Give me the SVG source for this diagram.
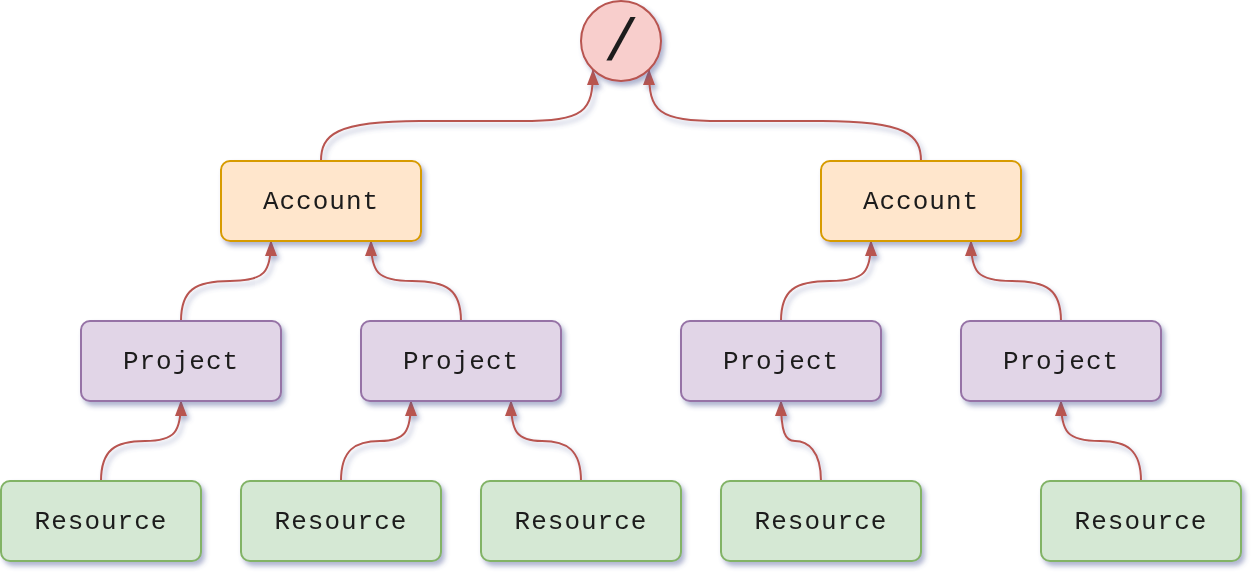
<svg xmlns="http://www.w3.org/2000/svg" width="1254" height="574" viewBox="0 0 1254 574">
<defs>
<filter id="sh" x="-20%" y="-20%" width="140%" height="150%">
<feGaussianBlur in="SourceAlpha" stdDeviation="2.5"/>
<feOffset dx="3" dy="4" result="b"/>
<feFlood flood-color="#4d5a96" flood-opacity="0.45"/>
<feComposite in2="b" operator="in"/>
<feMerge><feMergeNode/><feMergeNode in="SourceGraphic"/></feMerge>
</filter>
<marker id="ar" viewBox="0 0 16 12" refX="15" refY="6" markerWidth="16" markerHeight="12" markerUnits="userSpaceOnUse" orient="auto">
<path d="M0,0 L16,6 L0,12 Z" fill="#b85450"/>
</marker>
<style>
.n rect{stroke-width:2}
.acc rect{fill:#ffe6cc;stroke:#d79b00}
.prj rect{fill:#e1d5e7;stroke:#9673a6}
.res rect{fill:#d5e8d4;stroke:#82b366}
text{font-family:"Liberation Mono","Courier New",monospace;font-size:26px;letter-spacing:1px;fill:#1a1a1a;text-anchor:middle}
.e path{fill:none;stroke:#b85450;stroke-width:2;marker-end:url(#ar)}
</style>
</defs>
<g id="connectors" class="e" filter="url(#sh)">
<path d="M321,161 C321,135 335,121 420,121 L520,121 C585,121 593,112 593,70"/>
<path d="M921,161 C921,135 907,121 822,121 L722,121 C657,121 649,112 649,70"/>
<path d="M181,321 C181,290 195,281 230,281 C265,281 271,272 271,241"/>
<path d="M461,321 C461,290 447,281 412,281 C377,281 371,272 371,241"/>
<path d="M781,321 C781,290 795,281 830,281 C865,281 871,272 871,241"/>
<path d="M1061,321 C1061,290 1047,281 1012,281 C977,281 971,272 971,241"/>
<path d="M101,481 C101,450 115,441 145,441 C175,441 181,432 181,401"/>
<path d="M341,481 C341,450 355,441 380,441 C405,441 411,432 411,401"/>
<path d="M581,481 C581,450 567,441 542,441 C517,441 511,432 511,401"/>
<path d="M821,481 C821,450 807,441 795,441 C785,441 781,432 781,401"/>
<path d="M1141,481 C1141,450 1127,441 1100,441 C1067,441 1061,432 1061,401"/>
</g>
<g id="root" filter="url(#sh)">
<circle cx="621" cy="41" r="40" fill="#f8cecc" stroke="#b85450" stroke-width="2"/>
<text x="621" y="60" style="font-size:60px;letter-spacing:0">/</text>
</g>
<g id="account1" class="n acc" filter="url(#sh)"><rect x="221" y="161" width="200" height="80" rx="9"/><text x="321" y="209">Account</text></g>
<g id="account2" class="n acc" filter="url(#sh)"><rect x="821" y="161" width="200" height="80" rx="9"/><text x="921" y="209">Account</text></g>
<g id="project1" class="n prj" filter="url(#sh)"><rect x="81" y="321" width="200" height="80" rx="9"/><text x="181" y="369">Project</text></g>
<g id="project2" class="n prj" filter="url(#sh)"><rect x="361" y="321" width="200" height="80" rx="9"/><text x="461" y="369">Project</text></g>
<g id="project3" class="n prj" filter="url(#sh)"><rect x="681" y="321" width="200" height="80" rx="9"/><text x="781" y="369">Project</text></g>
<g id="project4" class="n prj" filter="url(#sh)"><rect x="961" y="321" width="200" height="80" rx="9"/><text x="1061" y="369">Project</text></g>
<g id="resource1" class="n res" filter="url(#sh)"><rect x="1" y="481" width="200" height="80" rx="9"/><text x="101" y="529">Resource</text></g>
<g id="resource2" class="n res" filter="url(#sh)"><rect x="241" y="481" width="200" height="80" rx="9"/><text x="341" y="529">Resource</text></g>
<g id="resource3" class="n res" filter="url(#sh)"><rect x="481" y="481" width="200" height="80" rx="9"/><text x="581" y="529">Resource</text></g>
<g id="resource4" class="n res" filter="url(#sh)"><rect x="721" y="481" width="200" height="80" rx="9"/><text x="821" y="529">Resource</text></g>
<g id="resource5" class="n res" filter="url(#sh)"><rect x="1041" y="481" width="200" height="80" rx="9"/><text x="1141" y="529">Resource</text></g>
</svg>
